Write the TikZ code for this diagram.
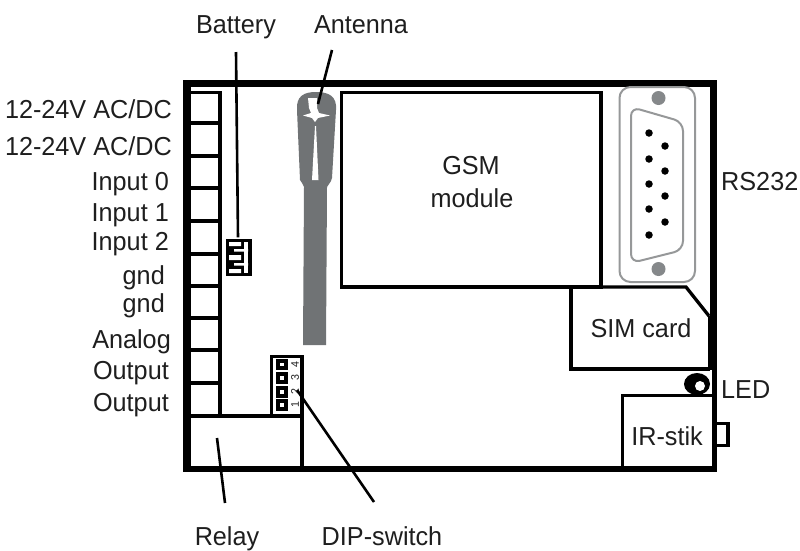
\documentclass[tikz,border=0pt]{standalone}
\usepackage{fontspec}
\setmainfont[FakeStretch=0.97]{Liberation Sans}
\definecolor{ant}{RGB}{112,115,117}
\definecolor{con}{RGB}{150,152,153}
\definecolor{ink}{RGB}{30,30,30}
\tikzset{
  lab/.style={inner sep=0pt,text=ink,font=\fontsize{26}{28}\selectfont},
  wire/.style={draw=black,line width=3.3pt},
  leader/.style={draw=black,line width=2.6pt},
  pin/.style={fill=black,draw=none,circle,minimum size=7.5pt,inner sep=0pt},
  dipsq/.style={draw=black,line width=3.6pt,fill=white,minimum size=7.5pt,inner sep=0pt,outer sep=0pt},
  dipnum/.style={inner sep=0pt,rotate=90,font=\fontsize{11}{11}\selectfont,text=ink}
}
\begin{document}
\begin{tikzpicture}[x=1pt,y=-1pt]
\useasboundingbox (0,0) rectangle (800,550);
% board
\fill[black] (183,80) rectangle (717,87);
\fill[black] (183,80) rectangle (191,472);
\fill[black] (183,466) rectangle (717,472);
\fill[black] (710,80) rectangle (717,316);
\fill[black] (708,316) rectangle (717,370);
\fill[black] (712,370) rectangle (717,472);
% terminals
\draw[wire] (190,92.5) -- (220,92.5) -- (220,416);
\foreach \y in {123,156,188,221,254,286,318,350,383}
  \draw[wire] (190,\y) -- (220,\y);
% relay
\draw[wire] (190,416) -- (302,416) -- (302,467);
% dip
\draw[wire] (271.5,416) -- (271.5,356.5) -- (302,356.5) -- (302,416);
\foreach \y/\n in {364.5/4,378/3,392/2,405/1}{
  \node[dipsq] at (282,\y) {};
  \node[dipnum] at (295,\y) {\n};
}
% battery
\fill[black] (226,239) rectangle (252,276);
\fill[white] (229,242) rectangle (241,246) (229,255) rectangle (241,260) (229,269) rectangle (241,273);
\fill[white] (244,242) rectangle (248,273);
\fill[white] (234,249) rectangle (248,251.5) (234,263) rectangle (248,265.5);
\node[inner sep=0pt] (batt) at (238,238) {};
% antenna
\fill[ant] (303,345) -- (304,187) .. controls (304,184) and (301,183) .. (300,180)
  -- (297,110) .. controls (296,96) and (304,92) .. (316,92) .. controls (330,92) and (337,97) .. (336,110)
  -- (332,178) .. controls (331,183) and (328,184) .. (327,187) -- (326,345) -- cycle;
\fill[white] (308,98) -- (317,98) -- (317,108) -- (319,113) -- (330,115.5) -- (318,118) -- (315,122) -- (312,118) -- (303,115.5) -- (311,113) -- (309,108) -- cycle;
\fill[white] (315,126) -- (316,126) -- (318.5,180) -- (312,180) -- cycle;
% GSM
\draw[wire] (341.5,92.5) rectangle (601,287);
% SUB-D
\draw[con,line width=2pt,rounded corners=11pt] (619.5,87) rectangle (695,282);
\draw[con,line width=2pt,rounded corners=9pt] (631,180) -- (631,107) -- (683,122) -- (683,250) -- (631,263) -- cycle;
\fill[ant!85!white] (658.5,98) circle (7) (658.5,269) circle (7);
\foreach \x/\y in {649/133,649/159,649/184,649/209,649/235,665/146,665/171,665/196,665/222}
  \node[pin] at (\x,\y) {};
% SIM
\draw[wire] (571,287) -- (571,369) -- (710,369);
\draw[wire] (571,287) -- (686,287) -- (709,316);
% LED
\fill[black] (697,384) ellipse (13 and 11);
\fill[white] (700,386) circle (5);
% IR
\draw[wire] (713,395.5) -- (622.5,395.5) -- (622.5,467);
\draw[wire] (717,423.5) -- (728,423.5) -- (728,445.5) -- (717,445.5);
% labels
\foreach \n/\y/\t/\x in {a/118/12-24V AC\slash DC/172,b/155/12-24V AC\slash DC/172,c/190/Input 0/169,d/221/Input 1/169,e/250/Input 2/169,f/284/gnd/165,g/312/gnd/165,h/348/Analog/171,i/379/Output/169,j/411/Output/169}
  \node[lab,anchor=base east] (t\n) at (\x,\y) {\t};
\node[lab,anchor=base] (lbatt) at (236,33) {Battery};
\node[lab,anchor=base] (lant) at (361,33) {Antenna};
\node[lab,anchor=base] (lrel) at (227,545) {Relay};
\node[lab,anchor=base] (ldip) at (382,545) {DIP-switch};
\node[lab,anchor=base west] (lrs) at (721,190) {RS232};
\node[lab,anchor=base west] (lled) at (721,398) {LED};
\node[lab,anchor=base] (lgsm) at (471,174) {GSM};
\node[lab,anchor=base] (lmod) at (472,207) {module};
\node[lab,anchor=base] (lsim) at (641,337) {SIM card};
\node[lab,anchor=base] (lir) at (667,445) {IR-stik};
% leaders
\coordinate (eb) at (236,52);
\coordinate (ea) at (332,50);
\coordinate (ed) at (318,104);
\coordinate (er) at (217,438);
\coordinate (erl) at (225,503);
\coordinate (ed1) at (297,390);
\coordinate (ed2) at (374,502);
\draw[leader] (eb) -- (batt);
\draw[leader] (ea) -- (ed);
\draw[leader] (er) -- (erl);
\draw[leader] (ed1) -- (ed2);
\end{tikzpicture}
\end{document}
